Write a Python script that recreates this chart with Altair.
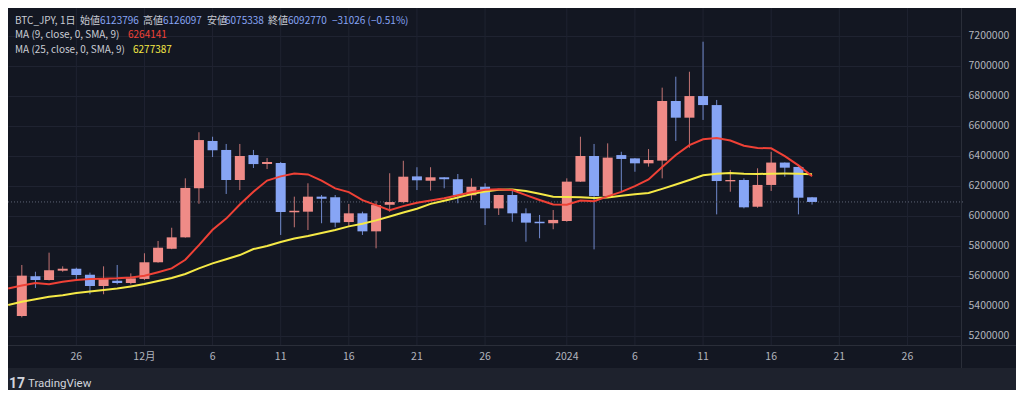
import altair as alt
import pandas as pd

# ---------------- data ----------------
dates = pd.date_range("2023-11-22", periods=59, freq="D").strftime("%Y-%m-%d").tolist()
ma_dates = pd.date_range("2023-11-21", periods=60, freq="D").strftime("%Y-%m-%d").tolist()

opens = [5333000, 5598000, 5573000, 5635000, 5648000, 5608000, 5533000, 5568000, 5553000, 5580000,
         5691000, 5781000, 5857000, 6184000, 6499000, 6439000, 6239000, 6405000, 6345000, 6352000,
         6024000, 6028000, 6128000, 6124000, 5959000, 6017000, 5897000, 6074000, 6092000, 6263000,
         6234000, 6257000, 6244000, 6137000, 6194000, 6050000, 6139000, 6017000, 5961000, 5951000,
         5966000, 6228000, 6399000, 6132000, 6405000, 6383000, 6350000, 6368000, 6765000, 6654000,
         6798000, 6738000, 6230000, 6239000, 6061000, 6206000, 6355000, 6326000, 6123796]
highs = [5673000, 5628000, 5755000, 5664000, 5655000, 5622000, 5664000, 5673000, 5617000, 5751000,
         5833000, 5921000, 6250000, 6557000, 6527000, 6479000, 6479000, 6439000, 6385000, 6359000,
         6128000, 6217000, 6139000, 6139000, 6079000, 6028000, 6101000, 6284000, 6367000, 6324000,
         6324000, 6258000, 6279000, 6250000, 6217000, 6140000, 6172000, 6050000, 6006000, 6039000,
         6250000, 6527000, 6479000, 6483000, 6427000, 6385000, 6445000, 6854000, 6927000, 6960000,
         7160000, 6772000, 6306000, 6250000, 6317000, 6427000, 6356000, 6330000, 6126097]
lows = [5324000, 5520000, 5570000, 5628000, 5580000, 5478000, 5478000, 5544000, 5544000, 5573000,
        5688000, 5778000, 5855000, 6081000, 6392000, 6146000, 6172000, 6319000, 6312000, 5873000,
        5924000, 5906000, 5951000, 5924000, 5933000, 5873000, 5784000, 6028000, 6084000, 6172000,
        6168000, 6184000, 6084000, 6106000, 5939000, 6006000, 5961000, 5828000, 5851000, 5911000,
        5961000, 6226000, 5777000, 6128000, 6166000, 6294000, 6328000, 6250000, 6499000, 6454000,
        6639000, 6010000, 6161000, 6050000, 6054000, 6166000, 6261000, 6010000, 6075338]
closes = [5602000, 5573000, 5638000, 5648000, 5606000, 5533000, 5580000, 5553000, 5584000, 5691000,
          5788000, 5857000, 6186000, 6505000, 6437000, 6239000, 6399000, 6345000, 6359000, 6026000,
          6034000, 6128000, 6114000, 5955000, 6017000, 5897000, 6072000, 6092000, 6261000, 6237000,
          6257000, 6244000, 6137000, 6194000, 6050000, 6139000, 6017000, 5955000, 5951000, 5973000,
          6228000, 6399000, 6132000, 6388000, 6379000, 6350000, 6372000, 6765000, 6654000, 6798000,
          6738000, 6232000, 6239000, 6057000, 6206000, 6355000, 6321000, 6121000, 6092770]

ma9 = [5517000, 5537000, 5553000, 5544000, 5562000, 5573000, 5580000, 5582000, 5584000, 5590000,
       5601000, 5625000, 5650000, 5708000, 5805000, 5907000, 5982000, 6076000, 6161000, 6235000,
       6263000, 6282000, 6276000, 6235000, 6183000, 6158000, 6105000, 6072000, 6038000, 6065000,
       6088000, 6102000, 6118000, 6137000, 6157000, 6174000, 6178000, 6172000, 6138000, 6106000,
       6076000, 6074000, 6102000, 6098000, 6130000, 6160000, 6198000, 6243000, 6326000, 6406000,
       6471000, 6510000, 6519000, 6502000, 6467000, 6452000, 6450000, 6398000, 6336000, 6264141]
ma25 = [5406000, 5428000, 5445000, 5462000, 5472000, 5486000, 5496000, 5506000, 5516000, 5530000,
        5546000, 5566000, 5586000, 5613000, 5650000, 5684000, 5711000, 5739000, 5779000, 5799000,
        5826000, 5849000, 5866000, 5886000, 5906000, 5930000, 5947000, 5970000, 5996000, 6022000,
        6048000, 6080000, 6101000, 6122000, 6145000, 6162000, 6174000, 6176000, 6165000, 6147000,
        6128000, 6125000, 6124000, 6119000, 6122000, 6134000, 6144000, 6152000, 6180000, 6209000,
        6239000, 6271000, 6281000, 6286000, 6280000, 6279000, 6281000, 6282000, 6281000, 6277387]

x_tick_dates = ["2023-11-26", "2023-12-01", "2023-12-06", "2023-12-11", "2023-12-16", "2023-12-21",
                "2023-12-26", "2024-01-01", "2024-01-06", "2024-01-11", "2024-01-16", "2024-01-21",
                "2024-01-26"]
x_tick_labels = ["26", "12月", "6", "11", "16", "21", "26", "2024", "6", "11", "16", "21", "26"]
y_ticks = [5200000, 5400000, 5600000, 5800000, 6000000, 6200000, 6400000, 6600000, 6800000,
           7000000, 7200000]

header_names = ["始値", "高値", "安値", "終値"]
header_values = [6123796, 6126097, 6075338, 6092770]
change_abs = -31026
change_pct = -0.51

# ---------------- style ----------------
BG = "#131722"
FRAME = "#1e222d"
GRID = "#1f2331"
SEP = "#2a2e39"
AXIS_TXT = "#b2b5be"
HEAD_TXT = "#c9ccd4"
UP = "#ef8b87"
DOWN = "#87a5f5"
RED = "#ef4136"
YELLOW = "#f5e946"
FONT = "Noto Sans CJK JP"

W, H = 952, 337

candles = pd.DataFrame({"date": dates, "open": opens, "high": highs, "low": lows, "close": closes})
candles["dir"] = ["up" if c >= o else "down" for o, c in zip(opens, closes)]
ma_df = pd.DataFrame({"date": ma_dates, "ma9": ma9, "ma25": ma25})
ticks_df = pd.DataFrame({"date": x_tick_dates, "label": x_tick_labels})
one = pd.DataFrame({"k": [0]})

x_scale = alt.Scale(
    type="utc",
    domain=[alt.DateTime(year=2023, month=11, date=21, hours=8, minutes=27, utc=True),
            alt.DateTime(year=2024, month=1, date=29, hours=11, minutes=48, utc=True)],
)
y_scale = alt.Scale(domain=[5140060, 7384470], nice=False, zero=False)
y_axis = alt.Axis(orient="right", values=y_ticks, format="d", labelColor=AXIS_TXT,
                  labelFontSize=10.5, labelFont=FONT, labelAlign="left", labelPadding=8,
                  labelBaseline="middle", ticks=False, domain=False, grid=True,
                  gridColor=GRID, gridWidth=1, title=None)
color_scale = alt.Scale(domain=["up", "down"], range=[UP, DOWN])

x_enc = alt.X("date:T", scale=x_scale, axis=None)


def yq(field):
    return alt.Y(field, scale=y_scale, axis=y_axis)


# vertical grid lines at the time ticks
vgrid = alt.Chart(ticks_df).mark_rule(color=GRID, strokeWidth=1).encode(x=x_enc)

wicks = alt.Chart(candles).mark_rule(strokeWidth=1, opacity=0.8).encode(
    x=x_enc, y=yq("low:Q"), y2="high:Q",
    color=alt.Color("dir:N", scale=color_scale, legend=None),
)

bodies = alt.Chart(candles).mark_bar(size=10).encode(
    x=x_enc, y=yq("open:Q"), y2="close:Q",
    color=alt.Color("dir:N", scale=color_scale, legend=None),
)

line9 = alt.Chart(ma_df).mark_line(color=RED, strokeWidth=2, clip=True).encode(
    x=x_enc, y=yq("ma9:Q"))
line25 = alt.Chart(ma_df).mark_line(color=YELLOW, strokeWidth=2, clip=True).encode(
    x=x_enc, y=yq("ma25:Q"))

last_price = alt.Chart(pd.DataFrame({"p": [closes[-1]]})).mark_rule(
    color="#5d6475", strokeDash=[1, 2], strokeWidth=1).encode(
    y=yq("p:Q"), x=alt.value(0), x2=alt.value(W + 4))

# separators
hsep = alt.Chart(one).mark_rule(color=SEP, strokeWidth=1).encode(
    x=alt.value(0), x2=alt.value(1008), y=alt.value(H + 0.5))
vsep = alt.Chart(one).mark_rule(color=SEP, strokeWidth=1).encode(
    x=alt.value(W + 1.5), y=alt.value(0), y2=alt.value(360))

# time labels
xlabels = alt.Chart(ticks_df).mark_text(
    color=AXIS_TXT, fontSize=10.5, font=FONT, baseline="middle", align="center").encode(
    x=x_enc, y=alt.value(349), text="label:N")

# bottom frame strip and branding
strip = alt.Chart(one).mark_rect(color=FRAME).encode(
    x=alt.value(0), x2=alt.value(1008), y=alt.value(360), y2=alt.value(382))


def label(text, x, y, color, size=10, weight="normal", font=FONT):
    return alt.Chart(pd.DataFrame({"t": [text]})).mark_text(
        color=color, fontSize=size, font=font, fontWeight=weight, align="left",
        baseline="middle").encode(x=alt.value(x), y=alt.value(y), text="t:N")


logo = label("17", 1, 376, "#d1d4dc", size=14, weight="bold", font="Roboto")
brand = label("TradingView", 20, 376, "#d1d4dc", size=11.5, font="Roboto")

fmt = lambda v: f"{v}".replace("-", "\u2212")
heads = [label("BTC_JPY, 1日", 7, 13, HEAD_TXT)]
name_x = [72, 135, 199, 260]
val_x = [92, 155, 217, 280]
for n, v, nx, vx in zip(header_names, header_values, name_x, val_x):
    heads.append(label(n, nx, 13, HEAD_TXT))
    heads.append(label(str(v), vx, 13, DOWN))
heads.append(label(f"{fmt(change_abs)} ({fmt(change_pct)}%)", 324, 13, DOWN))
heads.append(label("MA (9, close, 0, SMA, 9)", 7, 27, HEAD_TXT))
heads.append(label(str(ma9[-1]), 120, 27, RED))
heads.append(label("MA (25, close, 0, SMA, 9)", 7, 42, HEAD_TXT))
heads.append(label(str(ma25[-1]), 125, 42, YELLOW))

chart = alt.layer(
    vgrid, wicks, last_price, bodies, line25, line9, hsep, vsep, xlabels, strip, logo, brand, *heads
).properties(
    width=W, height=H,
    autosize=alt.AutoSizeParams(type="none"),
    padding={"left": 0, "top": 0, "right": 56, "bottom": 45},
).configure(background=BG).configure_view(strokeWidth=0)

chart.save("out.html", embed_options={"renderer": "svg", "actions": False})
